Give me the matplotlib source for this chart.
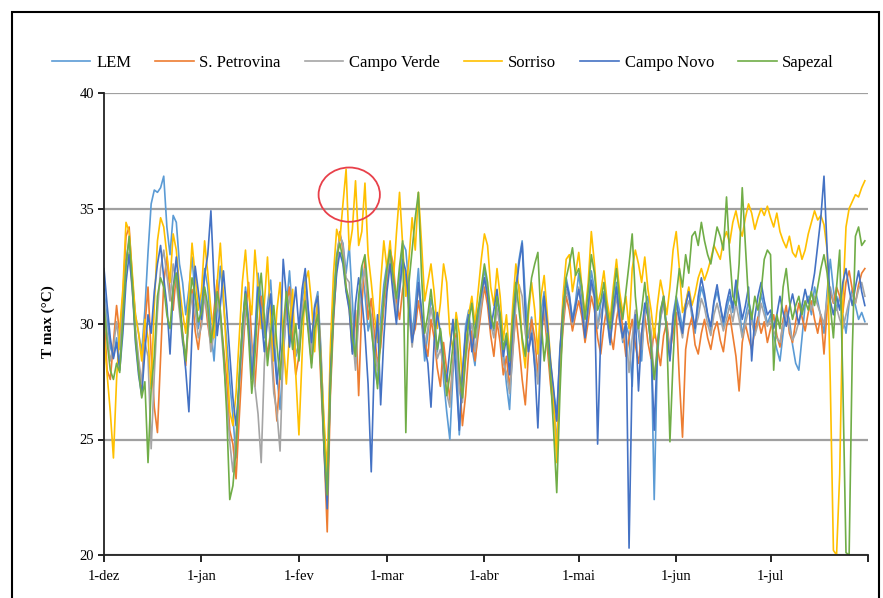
import numpy as np
import matplotlib
matplotlib.use("Agg")
import matplotlib.pyplot as plt
from matplotlib.patches import Ellipse, Rectangle

# ---------- dados (Tmax diária, 1-dez a 31-jul) ----------

month_labels = ["1-dez", "1-jan", "1-fev", "1-mar", "1-abr", "1-mai", "1-jun", "1-jul", ""]
month_lengths = [31, 31, 28, 31, 30, 31, 30, 31]

series_names = ["LEM", "S. Petrovina", "Campo Verde", "Sorriso", "Campo Novo", "Sapezal"]
series_colors = ["#5B9BD5", "#ED7D31", "#A5A5A5", "#FFC000", "#4472C4", "#70AD47"]

lem = [
    31.5, 30.2, 29.0, 28.6, 29.4, 28.2, 30.5, 32.8, 33.6, 31.9, 30.4, 29.6, 28.8, 30.6, 33.1, 35.2, 35.8, 35.7, 35.9, 36.4, 34.2, 33.0, 34.7, 34.4, 32.6, 31.8, 30.4, 31.5, 32.9, 31.2, 29.8,
    30.8, 32.4, 31.6, 29.8, 28.4, 30.6, 32.5, 30.9, 29.3, 27.5, 26.0, 24.2, 27.3, 29.8, 31.6, 30.2, 28.1, 29.6, 32.2, 31.0, 29.4, 30.8, 31.9, 29.7, 27.8, 26.3, 28.5, 30.7, 32.3, 30.4, 28.6,
    29.2, 31.0, 32.0, 30.5, 29.1, 30.8, 31.4, 28.9, 25.3, 23.0, 28.4, 31.2, 33.0, 33.8, 33.5, 32.2, 33.4, 31.0, 28.3, 30.9, 32.5, 31.3, 29.7, 30.3, 28.1, 27.4, 30.2, 31.7,
    32.6, 33.0, 31.8, 30.4, 32.1, 33.5, 33.2, 31.6, 29.5, 30.8, 32.4, 30.2, 28.4, 29.6, 31.1, 30.5, 28.8, 29.7, 27.6, 26.2, 25.0, 27.9, 29.3, 25.2, 27.6, 29.9, 30.6, 29.0, 28.2, 30.1, 31.2,
    32.4, 31.5, 30.2, 29.7, 31.0, 30.4, 28.8, 27.4, 26.3, 29.1, 31.6, 32.8, 33.6, 31.2, 29.4, 30.3, 28.1, 27.7, 30.5, 31.4, 29.8, 28.2, 27.0, 26.1, 28.7, 30.8, 32.0, 31.3, 30.2, 31.0,
    32.2, 31.0, 29.6, 30.7, 32.3, 31.5, 29.8, 30.9, 31.4, 30.2, 29.1, 30.6, 31.8, 30.4, 29.2, 30.0, 29.5, 27.3, 30.5, 29.6, 28.4, 30.8, 31.2, 29.4, 22.4, 28.6, 30.2, 31.0, 29.7, 28.5, 30.4,
    31.2, 30.6, 29.8, 30.9, 31.5, 30.3, 29.6, 30.8, 31.6, 31.1, 30.4, 29.7, 30.9, 31.4, 30.8, 29.9, 30.6, 31.2, 30.5, 31.7, 30.8, 29.5, 30.3, 31.0, 30.4, 29.6, 30.2, 31.3, 30.7, 30.0,
    30.4, 29.5, 28.9, 28.4, 29.6, 30.6, 30.2, 29.1, 28.3, 28.0, 29.4, 30.8, 31.2, 30.4, 31.6, 31.0, 30.3, 29.6, 31.4, 32.8, 31.5, 30.6, 31.2, 30.4, 29.6, 30.9, 31.5, 30.8, 30.2, 30.5, 30.1,
]

s_petrovina = [
    30.4, 28.0, 27.6, 29.2, 30.8, 29.5, 31.2, 33.8, 34.2, 32.0, 29.6, 28.3, 27.2, 29.9, 31.6, 28.7, 26.4, 25.3, 28.6, 31.8, 32.9, 31.4, 30.6, 32.2, 31.0, 29.6, 28.2, 30.3, 31.5, 29.7, 28.9,
    30.2, 31.3, 30.0, 29.1, 30.6, 31.9, 30.4, 29.0, 27.6, 25.4, 24.8, 23.3, 25.9, 28.4, 30.5, 31.8, 29.2, 27.3, 29.5, 31.2, 30.1, 28.6, 29.7, 27.5, 25.8, 27.9, 29.4, 30.8, 31.6, 29.3, 27.8,
    28.6, 30.4, 31.2, 29.8, 28.3, 29.9, 30.6, 27.4, 24.6, 21.0, 26.9, 30.1, 32.4, 34.0, 33.2, 31.5, 30.7, 28.8, 30.6, 26.9, 30.8, 32.8, 30.2, 31.1, 29.6, 28.3, 29.0, 30.7,
    31.8, 33.2, 32.6, 31.0, 30.2, 31.5, 32.1, 30.6, 29.4, 29.8, 31.0, 30.1, 29.3, 28.6, 30.2, 29.4, 28.1, 27.3, 29.2, 28.0, 26.7, 28.4, 29.6, 27.8, 25.6, 26.9, 28.8, 29.7, 28.4, 29.5, 30.6,
    31.6, 30.8, 29.5, 28.6, 30.1, 29.2, 27.8, 28.6, 27.2, 28.9, 30.4, 29.1, 27.6, 26.5, 28.7, 30.2, 29.4, 27.8, 29.6, 30.5, 29.0, 27.4, 26.2, 25.8, 27.9, 29.8, 31.2, 30.6, 29.7, 30.4,
    31.0, 30.3, 29.2, 30.1, 31.2, 30.6, 29.4, 28.7, 29.9, 30.8, 29.6, 28.9, 30.2, 31.0, 29.8, 28.6, 29.4, 30.2, 29.1, 28.3, 29.6, 30.4, 29.2, 28.5, 29.8, 29.0, 28.2, 29.5, 30.1, 28.8, 29.6,
    30.5, 27.6, 25.1, 28.9, 29.8, 30.3, 29.1, 28.7, 29.6, 30.2, 29.4, 28.9, 29.7, 30.1, 29.3, 28.8, 29.9, 30.4, 29.5, 28.6, 27.1, 29.2, 30.0, 29.4, 28.9, 29.7, 30.3, 29.6, 30.1, 29.2,
    29.8, 30.4, 29.5, 29.0, 30.2, 30.8, 29.6, 29.2, 30.1, 30.9, 30.3, 29.7, 30.5, 31.0, 30.2, 29.6, 30.4, 28.7, 30.6, 31.4, 30.9, 31.6, 31.2, 30.5, 31.8, 32.3, 31.5, 30.9, 31.7, 32.2, 32.4,
]

campo_verde = [
    31.2, 29.6, 28.4, 29.0, 30.1, 28.9, 30.7, 32.6, 33.1, 31.4, 29.8, 28.5, 27.4, 29.2, 28.6, 24.6, 27.8, 30.5, 32.4, 33.2, 32.1, 31.0, 32.6, 31.8, 30.5, 29.2, 28.7, 30.1, 31.3, 30.6, 29.4,
    29.9, 31.2, 30.4, 28.8, 29.6, 31.0, 30.2, 28.5, 26.8, 24.9, 23.6, 25.2, 27.4, 29.1, 30.6, 30.2, 28.9, 27.3, 26.1, 24.0, 28.3, 30.6, 29.2, 27.0, 26.2, 24.5, 28.8, 30.4, 31.2, 30.1, 28.7,
    28.9, 30.6, 31.4, 30.1, 28.7, 30.2, 30.9, 28.1, 24.9, 22.3, 27.5, 30.6, 32.7, 33.9, 33.4, 32.0, 31.8, 29.6, 28.0, 30.2, 31.7, 32.4, 30.9, 30.4, 28.9, 28.0, 29.6, 31.0,
    32.2, 32.9, 31.5, 30.6, 31.4, 32.6, 32.0, 30.5, 29.0, 30.3, 31.6, 30.4, 29.1, 29.8, 30.7, 29.9, 28.5, 28.9, 28.2, 27.0, 26.4, 28.3, 29.4, 27.1, 26.6, 28.4, 29.5, 30.0, 28.8, 29.9, 30.8,
    32.0, 31.2, 30.0, 29.4, 30.7, 29.8, 28.3, 27.9, 27.0, 28.6, 30.9, 31.7, 31.2, 29.6, 28.8, 29.7, 28.6, 27.4, 29.9, 30.8, 29.5, 27.9, 26.6, 24.8, 28.2, 30.1, 31.5, 31.0, 30.0, 30.7,
    31.6, 30.8, 29.7, 30.5, 31.7, 31.1, 29.9, 30.4, 31.0, 30.2, 29.5, 30.3, 31.2, 30.1, 29.3, 29.8, 27.9, 29.4, 30.6, 29.9, 28.9, 30.4, 30.9, 29.6, 27.6, 29.1, 30.3, 30.8, 29.8, 28.9, 30.2,
    30.8, 30.1, 29.4, 30.6, 31.0, 30.5, 29.8, 30.3, 31.1, 30.7, 30.0, 29.5, 30.4, 30.9, 30.3, 29.7, 30.2, 30.8, 30.1, 30.9, 30.2, 29.4, 30.0, 30.6, 30.1, 29.5, 30.0, 30.9, 30.4, 29.9,
    30.2, 29.7, 29.4, 29.2, 30.0, 30.5, 29.8, 29.3, 29.6, 30.1, 30.6, 30.9, 31.1, 30.6, 31.2, 30.8, 30.4, 30.0, 31.1, 31.6, 31.0, 30.7, 30.2, 29.8, 30.4, 31.0, 31.3, 30.9, 31.5, 31.8, 31.2,
]

sorriso = [
    29.5, 27.8, 26.2, 24.2, 27.6, 29.8, 31.5, 34.4, 34.0, 32.2, 30.4, 29.6, 28.4, 30.2, 29.4, 27.2, 30.8, 33.6, 34.6, 34.2, 33.0, 31.8, 33.9, 33.2, 31.6, 30.5, 29.6, 31.2, 33.5, 32.1, 30.6,
    31.4, 33.6, 32.2, 30.6, 29.4, 31.8, 33.5, 31.2, 28.6, 26.2, 25.6, 27.0, 29.4, 31.8, 33.2, 31.3, 30.4, 33.2, 31.6, 29.8, 30.9, 32.9, 30.2, 28.4, 30.6, 31.8, 29.3, 27.4, 29.6, 31.5, 27.8,
    25.2, 28.6, 31.8, 32.3, 30.9, 28.8, 31.2, 28.6, 25.8, 23.6, 29.0, 32.2, 34.1, 33.6, 35.2, 36.7, 33.2, 34.1, 36.2, 33.4, 34.0, 36.1, 33.0, 31.8, 30.4, 29.2, 31.8, 33.6,
    32.4, 33.6, 31.8, 33.9, 35.7, 33.4, 31.2, 32.8, 34.6, 33.2, 35.7, 33.5, 31.0, 31.8, 32.6, 31.4, 29.8, 30.9, 32.6, 31.8, 29.6, 28.9, 30.5, 29.6, 27.4, 28.9, 30.4, 31.2, 30.0, 31.4, 32.8,
    33.9, 33.4, 31.6, 30.8, 32.4, 31.2, 29.3, 30.4, 28.5, 30.8, 32.6, 31.5, 29.2, 28.1, 30.4, 31.8, 30.6, 28.7, 31.2, 32.1, 30.4, 28.5, 26.8, 24.0, 28.6, 31.2, 32.8, 33.0, 31.4, 32.2,
    33.1, 31.6, 30.4, 31.8, 34.0, 32.6, 30.8, 31.4, 32.3, 31.0, 30.2, 31.6, 32.8, 31.4, 30.5, 31.2, 29.8, 32.4, 33.2, 32.6, 31.8, 32.9, 31.5, 30.6, 29.4, 30.8, 31.9, 31.2, 30.4, 31.6, 33.2,
    34.0, 32.4, 30.5, 30.9, 31.6, 30.8, 31.3, 32.0, 32.4, 31.9, 32.3, 32.8, 33.4, 33.1, 32.8, 33.6, 34.0, 33.5, 34.4, 34.9, 34.2, 33.8, 34.6, 35.2, 34.8, 34.1, 34.6, 35.0, 34.7, 35.1,
    34.6, 34.2, 34.8, 34.0, 33.6, 33.3, 33.8, 33.1, 32.9, 33.4, 32.8, 33.2, 33.9, 34.4, 34.9, 34.5, 34.7, 34.3, 33.2, 27.5, 20.2, 20.0, 23.5, 31.0, 34.2, 35.0, 35.3, 35.6, 35.5, 35.9, 36.2,
]

campo_novo = [
    32.4, 30.8, 29.4, 28.5, 29.2, 28.0, 29.6, 31.8, 33.0, 31.6, 29.2, 27.8, 26.9, 28.8, 30.4, 29.6, 31.4, 32.6, 33.4, 32.0, 30.8, 28.7, 31.5, 32.9, 31.3, 29.4, 28.0, 26.2, 29.6, 32.5, 31.4,
    30.2, 32.1, 33.0, 34.9, 31.8, 29.5, 30.8, 32.3, 30.6, 28.7, 26.8, 25.6, 27.5, 29.8, 31.4, 29.9, 27.6, 29.2, 31.6, 30.4, 28.8, 30.2, 31.3, 29.1, 27.4, 28.9, 32.8, 31.2, 29.0, 30.4, 31.6,
    29.8, 31.5, 32.4, 30.6, 29.2, 30.7, 31.2, 28.2, 24.5, 22.0, 27.8, 30.4, 32.2, 33.1, 32.6, 31.4, 30.6, 28.7, 30.9, 32.0, 31.1, 29.6, 27.4, 23.6, 28.5, 30.4, 26.5, 29.4,
    31.4, 32.6, 31.2, 30.0, 31.5, 32.8, 32.3, 30.8, 29.2, 30.1, 31.8, 30.6, 29.0, 28.3, 26.4, 29.2, 30.5, 29.6, 28.4, 27.5, 28.9, 30.2, 27.6, 25.4, 27.9, 29.6, 30.4, 28.8, 29.7, 30.6, 31.3,
    32.0, 31.2, 29.8, 30.6, 31.5, 30.2, 28.6, 29.4, 27.8, 29.9, 31.4, 32.6, 33.5, 30.4, 28.8, 29.6, 28.2, 25.5, 29.1, 31.2, 30.0, 28.4, 27.2, 25.8, 28.9, 30.6, 31.8, 31.2, 30.1, 30.8,
    31.5, 30.6, 29.4, 30.8, 31.9, 31.2, 24.8, 29.6, 31.3, 30.4, 29.2, 30.6, 31.6, 30.2, 29.4, 30.1, 20.3, 28.0, 30.4, 27.1, 29.6, 30.9, 30.3, 29.0, 25.4, 28.9, 30.5, 31.2, 29.6, 28.4, 30.2,
    31.0, 30.2, 29.6, 30.8, 31.4, 30.6, 29.8, 31.2, 32.0, 31.3, 30.4, 29.9, 31.0, 31.7, 30.8, 30.1, 30.9, 31.5, 30.7, 31.9, 31.1, 30.2, 30.8, 31.6, 28.4, 30.3, 31.2, 31.8, 31.0, 30.4,
    30.6, 29.8, 30.4, 31.2, 30.5, 29.9, 30.7, 31.3, 30.6, 30.0, 30.8, 31.5, 30.9, 31.4, 32.2, 33.4, 34.6, 36.4, 33.2, 31.0, 30.4, 31.2, 30.6, 31.8, 32.4, 31.5, 30.8, 31.6, 32.3, 31.4, 30.8,
]

sapezal = [
    30.8, 29.2, 28.0, 27.6, 28.3, 27.9, 30.2, 32.5, 33.8, 31.8, 29.4, 28.0, 26.8, 27.5, 24.0, 27.2, 28.6, 31.2, 32.0, 31.6, 30.4, 29.8, 31.6, 32.2, 30.8, 29.5, 28.4, 30.6, 32.0, 31.2, 30.1,
    30.5, 31.6, 30.8, 29.2, 30.1, 31.4, 30.6, 28.8, 26.2, 22.4, 23.0, 24.6, 27.8, 29.9, 31.3, 29.4, 27.0, 28.6, 31.0, 32.2, 30.3, 28.2, 29.6, 30.8, 29.1, 27.6, 29.8, 31.4, 30.2, 28.9, 30.0,
    28.4, 30.2, 31.0, 29.6, 28.1, 29.8, 30.4, 27.9, 24.8, 22.6, 27.2, 30.6, 32.9, 33.5, 32.8, 31.6, 31.0, 29.4, 28.6, 31.2, 32.5, 33.0, 31.4, 29.8, 28.6, 27.2, 29.4, 31.2,
    32.4, 33.2, 32.0, 31.1, 32.5, 33.6, 25.3, 31.8, 33.2, 34.6, 35.7, 32.1, 29.6, 30.4, 31.5, 30.2, 28.9, 29.8, 28.6, 26.9, 27.8, 29.1, 30.2, 28.0, 26.8, 28.6, 30.1, 30.9, 29.4, 30.6, 31.6,
    32.6, 31.8, 30.4, 29.8, 31.2, 30.4, 28.9, 29.6, 28.4, 30.2, 31.8, 30.6, 29.4, 28.6, 30.8, 32.0, 32.6, 33.1, 30.2, 28.4, 29.6, 27.8, 25.4, 22.7, 26.9, 30.4, 32.0, 32.6, 33.3, 32.1,
    32.4, 31.6, 30.2, 31.4, 33.0, 32.2, 30.6, 31.0, 31.8, 30.6, 29.8, 31.2, 32.4, 31.0, 30.2, 31.4, 32.6, 33.9, 31.2, 29.8, 30.6, 31.8, 30.4, 29.0, 27.6, 28.8, 30.6, 31.2, 29.6, 24.9, 28.4,
    31.2, 32.4, 31.6, 33.0, 32.2, 33.8, 34.0, 33.4, 34.4, 33.6, 33.0, 32.6, 33.4, 34.2, 33.8, 33.2, 35.5, 33.0, 31.2, 30.8, 32.6, 35.9, 33.4, 31.0, 30.2, 31.2, 30.6, 31.4, 32.8, 33.2,
    33.0, 28.0, 30.4, 29.8, 31.6, 32.4, 31.0, 30.2, 30.8, 31.2, 30.4, 31.0, 30.6, 31.4, 30.8, 31.6, 32.4, 33.0, 32.2, 30.8, 29.4, 31.6, 33.2, 27.4, 20.1, 20.0, 28.8, 33.8, 34.2, 33.4, 33.6,
]

all_series = [lem, s_petrovina, campo_verde, sorriso, campo_novo, sapezal]
n_days = sum(month_lengths)
for name, s in zip(series_names, all_series):
    assert len(s) == n_days, (name, len(s))

# ---------- figura ----------

plt.rcParams["font.family"] = ["Liberation Serif", "DejaVu Serif"]

W, H = 883, 598
fig = plt.figure(figsize=(W / 100, H / 100), dpi=100)
ax = fig.add_axes([104 / W, 1 - 555 / H, (868 - 104) / W, (555 - 93) / H])

days = np.arange(n_days)
for name, color, s in zip(series_names, series_colors, all_series):
    ax.plot(days, s, color=color, lw=1.2, label=name, solid_joinstyle="round")

# circulo vermelho em torno dos picos de Sorriso em fevereiro
peak = int(np.argmax(sorriso))
ax.add_patch(Ellipse((peak + 1, sorriso[peak] - 1.1), 19.5, 2.35,
                     fill=False, ec="#E8404A", lw=1.3, zorder=5))

month_ticks = np.concatenate([[0], np.cumsum(month_lengths)])
ax.set_xlim(0, n_days)
ax.set_ylim(20, 40)
ax.set_xticks(month_ticks)
ax.set_xticklabels(month_labels, fontsize=10.5)
ax.set_yticks([20, 25, 30, 35, 40])
ax.tick_params(axis="y", labelsize=10.5, direction="out", length=4, width=1.2, pad=3)
ax.tick_params(axis="x", direction="out", length=5, width=1.2, pad=6)

ax.set_axisbelow(True)
ax.yaxis.grid(True, color="#a0a0a0", lw=1.6)
for side in ["top", "right"]:
    ax.spines[side].set_visible(False)
for side in ["left", "bottom"]:
    ax.spines[side].set_linewidth(1.3)
    ax.spines[side].set_color("#222222")

fig.text(48 / W, 1 - 322 / H, "T max (°C)", rotation=90, ha="center", va="center",
         fontsize=11, fontweight="bold")

ax.legend(loc="center", bbox_to_anchor=(443 / W, 1 - 63 / H), bbox_transform=fig.transFigure,
          ncol=6, frameon=False, fontsize=12, handlelength=2.3, handletextpad=0.35,
          columnspacing=1.45)

# moldura do grafico
fig.patches.append(Rectangle((12 / W, -0.1), (879 - 12) / W, 1.1 - 12 / H,
                             transform=fig.transFigure, fill=False, ec="black", lw=1.5))

fig.savefig("out.png", dpi=100)
